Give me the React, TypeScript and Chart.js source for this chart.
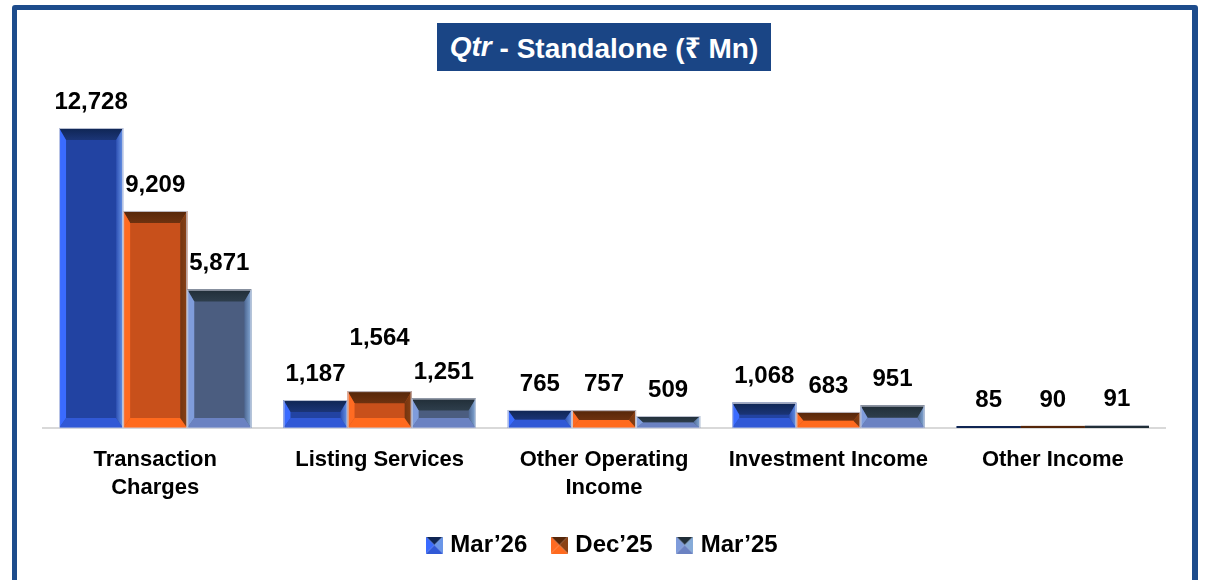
import React, { useEffect, useRef } from "react";
import { Chart, registerables } from "chart.js";

Chart.register(...registerables);

const categories: (string | string[])[] = [
  ["Transaction", "Charges"],
  "Listing Services",
  ["Other Operating", "Income"],
  "Investment Income",
  "Other Income",
];
const seriesNames = ["Mar’26", "Dec’25", "Mar’25"];
const mar26 = [12728, 1187, 765, 1068, 85];
const dec25 = [9209, 1564, 757, 683, 90];
const mar25 = [5871, 1251, 509, 951, 91];
const seriesValues = [mar26, dec25, mar25];

const bevelStyles = [
  { face: "#2243A2", top: "#0F2553", topInner: "#1B3577", left: "#3A6BFF", right: "#6A96E8", rightInner: "#2E51B4", bottom: "#3159D6" },
  { face: "#C8501B", top: "#552609", topInner: "#6E3210", left: "#FF6B22", right: "#8A4114", rightInner: "#733510", bottom: "#FF6A1E" },
  { face: "#4B5D80", top: "#212E38", topInner: "#2E3E4C", left: "#7F9CDB", right: "#86ABD8", rightInner: "#4E6893", bottom: "#6B82C2" },
];

const FONT = "'Liberation Sans', Arial, sans-serif";

function makeIcon(s: (typeof bevelStyles)[number]) {
  const size = 17;
  const c = document.createElement("canvas");
  c.width = size;
  c.height = size;
  const g = c.getContext("2d")!;
  const m = size / 2;
  const tri = (pts: number[][], col: string) => {
    g.beginPath();
    g.moveTo(pts[0][0], pts[0][1]);
    for (let i = 1; i < pts.length; i++) g.lineTo(pts[i][0], pts[i][1]);
    g.closePath();
    g.fillStyle = col;
    g.fill();
  };
  tri([[0, 0], [size, 0], [m, m]], s.top);
  tri([[0, 0], [m, m], [0, size]], s.left);
  tri([[size, 0], [size, size], [m, m]], s.right);
  tri([[0, size], [m, m], [size, size]], s.bottom);
  return c;
}

const bevelPlugin = {
  id: "bevelBars",
  afterDatasetsDraw(chart: any) {
    const ctx: CanvasRenderingContext2D = chart.ctx;
    ctx.save();
    chart.data.datasets.forEach((_ds: any, d: number) => {
      const s = bevelStyles[d];
      const meta = chart.getDatasetMeta(d);
      meta.data.forEach((el: any) => {
        const p = el.getProps(["x", "y", "base", "width"], true);
        const L = p.x - p.width / 2;
        const R = p.x + p.width / 2;
        const T = Math.min(p.y, p.base);
        const B = Math.max(p.y, p.base);
        const h = B - T;
        if (h <= 0) return;
        let t = 12;
        let bb = 10;
        const sd = 7;
        if (t + bb > h) {
          const k = h / (t + bb);
          t *= k;
          bb *= k;
        }
        const poly = (pts: number[][], fill: string | CanvasGradient) => {
          ctx.beginPath();
          ctx.moveTo(pts[0][0], pts[0][1]);
          for (let i = 1; i < pts.length; i++) ctx.lineTo(pts[i][0], pts[i][1]);
          ctx.closePath();
          ctx.fillStyle = fill;
          ctx.fill();
        };
        if (h < 5) {
          ctx.fillStyle = s.top;
          ctx.fillRect(L, T, R - L, h);
          return;
        }
        const gt = ctx.createLinearGradient(0, T, 0, T + t);
        gt.addColorStop(0, s.top);
        gt.addColorStop(1, s.topInner);
        poly([[L, T], [R, T], [R - sd, T + t], [L + sd, T + t]], gt);
        poly([[L, B], [L + sd, B - bb], [R - sd, B - bb], [R, B]], s.bottom);
        poly([[L, T], [L + sd, T + t], [L + sd, B - bb], [L, B]], s.left);
        const gr = ctx.createLinearGradient(R - sd, 0, R, 0);
        gr.addColorStop(0, s.rightInner);
        gr.addColorStop(1, s.right);
        poly([[R, T], [R, B], [R - sd, B - bb], [R - sd, T + t]], gr);
        ctx.strokeStyle = "rgba(205,210,225,0.9)";
        ctx.lineWidth = 1;
        ctx.strokeRect(L + 0.5, T + 0.5, R - L - 1, h - 0.5);
      });
    });
    ctx.restore();
  },
};

const valueLabelPlugin = {
  id: "valueLabels",
  afterDatasetsDraw(chart: any) {
    const ctx: CanvasRenderingContext2D = chart.ctx;
    ctx.save();
    ctx.font = `bold 24px ${FONT}`;
    ctx.fillStyle = "#000000";
    ctx.textAlign = "center";
    ctx.textBaseline = "middle";
    const n = chart.data.labels.length;
    for (let c = 0; c < n; c++) {
      const items = chart.data.datasets.map((ds: any, d: number) => {
        const el = chart.getDatasetMeta(d).data[c];
        const text = Number(ds.data[c]).toLocaleString("en-US");
        return { x: el.x, y: el.y - 26, w: ctx.measureText(text).width, text };
      });
      for (let i = 0; i < items.length; i++) {
        for (const j of [i - 1, i + 1]) {
          if (j < 0 || j >= items.length) continue;
          const a = items[i];
          const b = items[j];
          const gap = Math.abs(a.x - b.x) - (a.w + b.w) / 2;
          if (gap < 10 && Math.abs(a.y - b.y) < 24 && a.y < b.y) {
            a.y -= 27;
            break;
          }
        }
      }
      items.forEach((it: any) => ctx.fillText(it.text, it.x, it.y));
    }
    ctx.restore();
  },
};

export default function App() {
  const ref = useRef<HTMLCanvasElement | null>(null);

  useEffect(() => {
    if (!ref.current) return;
    const icons = bevelStyles.map(makeIcon);
    const chart = new Chart(ref.current, {
      type: "bar",
      data: {
        labels: categories,
        datasets: seriesValues.map((vals, i) => ({
          label: seriesNames[i],
          data: vals,
          backgroundColor: bevelStyles[i].face,
          borderWidth: 0,
          categoryPercentage: 0.857,
          barPercentage: 1,
        })),
      },
      options: {
        responsive: false,
        animation: false,
        devicePixelRatio: 1,
        layout: { padding: { top: 98, left: 43, right: 44, bottom: 13 } },
        scales: {
          x: {
            grid: { display: false, drawTicks: false, tickLength: 0 },
            border: { display: true, color: "#D9D9D9", width: 2 },
            ticks: {
              color: "#000000",
              font: { family: FONT, size: 22, weight: "bold", lineHeight: 1.28 },
              padding: 18,
              maxRotation: 0,
              autoSkip: false,
            },
            afterFit: (scale: any) => {
              scale.height = 77;
            },
          },
          y: {
            display: false,
            min: 0,
            max: 14000,
          },
        },
        plugins: {
          title: { display: false },
          tooltip: { enabled: false },
          legend: {
            display: true,
            position: "bottom",
            labels: {
              usePointStyle: true,
              boxWidth: 8,
              padding: 28,
              color: "#000000",
              font: { family: FONT, size: 24, weight: "bold" },
              generateLabels: () =>
                seriesNames.map((name, i) => ({
                  text: name,
                  pointStyle: icons[i],
                  fillStyle: bevelStyles[i].face,
                  strokeStyle: "transparent",
                  lineWidth: 0,
                  hidden: false,
                  datasetIndex: i,
                  fontColor: "#000000",
                })),
            },
          },
        },
      } as any,
      plugins: [bevelPlugin, valueLabelPlugin],
    });
    return () => chart.destroy();
  }, []);

  return (
    <div
      style={{
        position: "fixed",
        left: 0,
        top: 0,
        width: 1209,
        height: 580,
        background: "#FFFFFF",
        overflow: "hidden",
      }}
    >
      <canvas ref={ref} width={1209} height={580} style={{ position: "absolute", left: 0, top: 0 }} />
      <div
        style={{
          position: "absolute",
          left: 12,
          top: 5,
          width: 1186,
          height: 620,
          boxSizing: "border-box",
          borderStyle: "solid",
          borderColor: "#1D4C8C",
          borderWidth: "5px 6px 5px 5px",
          borderRadius: 3,
          pointerEvents: "none",
        }}
      />
      <div
        style={{
          position: "absolute",
          left: 437,
          top: 23,
          width: 334,
          height: 48,
          background: "#1A4585",
          color: "#FFFFFF",
          fontFamily: "'Liberation Sans', 'Noto Sans', 'DejaVu Sans', sans-serif",
          fontWeight: "bold",
          fontSize: 28,
          display: "flex",
          alignItems: "center",
          justifyContent: "center",
          whiteSpace: "nowrap",
        }}
      >
        <span style={{ fontStyle: "italic" }}>Qtr</span>
        <span>&nbsp;- Standalone (₹ Mn)</span>
      </div>
    </div>
  );
}
